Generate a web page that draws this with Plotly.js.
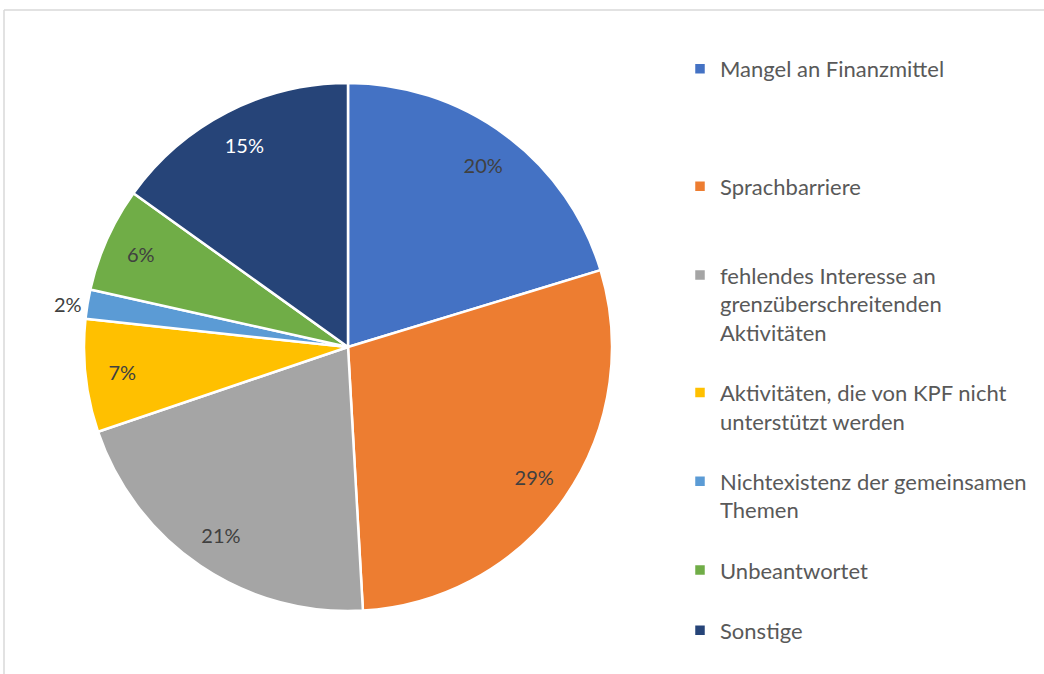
<!DOCTYPE html>
<html>
<head>
<meta charset="utf-8">
<script src="https://cdn.plot.ly/plotly-3.0.1.min.js"></script>
<style>html,body{margin:0;padding:0;background:#fff;}#chart{width:1044px;height:674px;}</style>
</head>
<body>
<div id="chart"></div>
<script>
const categories = [
  "Mangel an Finanzmittel",
  "Sprachbarriere",
  "fehlendes Interesse an grenzüberschreitenden Aktivitäten",
  "Aktivitäten, die von KPF nicht unterstützt werden",
  "Nichtexistenz der gemeinsamen Themen",
  "Unbeantwortet",
  "Sonstige"
];
// legend text (line breaks as in the reference, blank lines used as spacing)
const legendLabels = [
  "Mangel an Finanzmittel<br> <br> <br> ",
  "Sprachbarriere<br> <br> ",
  "fehlendes Interesse an<br>grenzüberschreitenden<br>Aktivitäten<br> ",
  "Aktivitäten, die von KPF nicht<br>unterstützt werden<br> ",
  "Nichtexistenz der gemeinsamen<br>Themen<br> ",
  "Unbeantwortet<br> ",
  "Sonstige"
];
const shares = [20.3, 28.8, 20.7, 6.9, 1.8, 6.4, 15.1];
const colors = ["#4472C4", "#ED7D31", "#A5A5A5", "#FFC000", "#5B9BD5", "#70AD47", "#264478"];
const labelColors = ["#404040", "#404040", "#404040", "#404040", "#404040", "#404040", "#ffffff"];

const dom = {x: [84/1044, 612/1044], y: [63/674, 591/674]};
const FONT = "Lato, 'Open Sans', sans-serif";

// slices
const pieTrace = {
  type: "pie",
  labels: legendLabels,
  values: shares,
  customdata: categories,
  sort: false,
  direction: "clockwise",
  rotation: 0,
  marker: {colors: colors, line: {color: "#ffffff", width: 2.5}},
  textinfo: "none",
  hovertemplate: "%{customdata}: %{percent}<extra></extra>",
  domain: dom
};

// percentage labels placed in the outer ring (transparent ring overlay)
const labelTrace = {
  type: "pie",
  labels: legendLabels,
  values: shares,
  sort: false,
  direction: "clockwise",
  rotation: 0,
  hole: 0.72,
  showlegend: false,
  marker: {colors: shares.map(() => "rgba(0,0,0,0)"), line: {width: 0}},
  texttemplate: "%{percent:.0%}",
  textposition: "auto",
  insidetextorientation: "horizontal",
  textfont: {family: FONT, size: 20, color: labelColors},
  insidetextfont: {family: FONT, size: 20, color: labelColors},
  outsidetextfont: {family: FONT, size: 20, color: "#404040"},
  hoverinfo: "skip",
  domain: dom
};

const layout = {
  width: 1044, height: 674,
  margin: {l: 0, r: 0, t: 0, b: 0},
  paper_bgcolor: "#ffffff",
  showlegend: true,
  legend: {
    x: 680/1044, y: 1 - 48/674, xanchor: "left", yanchor: "top",
    valign: "top",
    font: {family: FONT, size: 22, color: "#595959"},
    bgcolor: "rgba(0,0,0,0)"
  },
  shapes: [
    {type: "line", xref: "paper", yref: "paper", x0: 4/1044, x1: 1, y0: 1 - 10/674, y1: 1 - 10/674, line: {color: "#d9d9d9", width: 1.5}},
    {type: "line", xref: "paper", yref: "paper", x0: 4/1044, x1: 4/1044, y0: 0, y1: 1 - 10/674, line: {color: "#d9d9d9", width: 1.5}}
  ]
};

Plotly.newPlot("chart", [pieTrace, labelTrace], layout, {displayModeBar: false, staticPlot: true});
</script>
</body>
</html>
